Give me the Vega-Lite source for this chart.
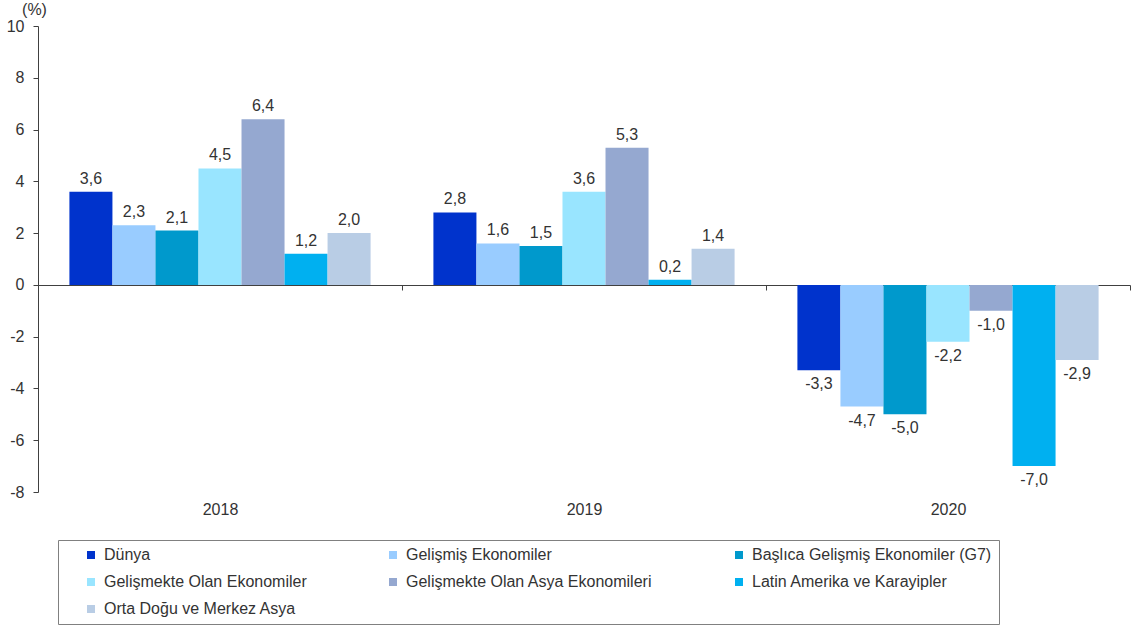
{
  "$schema": "https://vega.github.io/schema/vega-lite/v6.json",
  "width": 1092,
  "height": 466,
  "autosize": {"type": "none"},
  "padding": {"left": 38, "top": 26, "right": 2, "bottom": 135},
  "config": {
    "locale": {"number": {"decimal": ",", "thousands": ".", "grouping": [3], "currency": ["", ""], "minus": "-"}},
    "view": {"stroke": null},
    "font": "Liberation Sans"
  },
  "data": {"values": [
    {"yil": "2018", "seri": "Dünya", "deger": 3.6},
    {"yil": "2018", "seri": "Gelişmiş Ekonomiler", "deger": 2.3},
    {"yil": "2018", "seri": "Başlıca Gelişmiş Ekonomiler (G7)", "deger": 2.1},
    {"yil": "2018", "seri": "Gelişmekte Olan Ekonomiler", "deger": 4.5},
    {"yil": "2018", "seri": "Gelişmekte Olan Asya Ekonomileri", "deger": 6.4},
    {"yil": "2018", "seri": "Latin Amerika ve Karayipler", "deger": 1.2},
    {"yil": "2018", "seri": "Orta Doğu ve Merkez Asya", "deger": 2.0},
    {"yil": "2019", "seri": "Dünya", "deger": 2.8},
    {"yil": "2019", "seri": "Gelişmiş Ekonomiler", "deger": 1.6},
    {"yil": "2019", "seri": "Başlıca Gelişmiş Ekonomiler (G7)", "deger": 1.5},
    {"yil": "2019", "seri": "Gelişmekte Olan Ekonomiler", "deger": 3.6},
    {"yil": "2019", "seri": "Gelişmekte Olan Asya Ekonomileri", "deger": 5.3},
    {"yil": "2019", "seri": "Latin Amerika ve Karayipler", "deger": 0.2},
    {"yil": "2019", "seri": "Orta Doğu ve Merkez Asya", "deger": 1.4},
    {"yil": "2020", "seri": "Dünya", "deger": -3.3},
    {"yil": "2020", "seri": "Gelişmiş Ekonomiler", "deger": -4.7},
    {"yil": "2020", "seri": "Başlıca Gelişmiş Ekonomiler (G7)", "deger": -5.0},
    {"yil": "2020", "seri": "Gelişmekte Olan Ekonomiler", "deger": -2.2},
    {"yil": "2020", "seri": "Gelişmekte Olan Asya Ekonomileri", "deger": -1.0},
    {"yil": "2020", "seri": "Latin Amerika ve Karayipler", "deger": -7.0},
    {"yil": "2020", "seri": "Orta Doğu ve Merkez Asya", "deger": -2.9}
  ]},
  "encoding": {
    "x": {
      "field": "yil", "type": "nominal",
      "scale": {"paddingInner": 0, "paddingOuter": 0},
      "axis": {
        "title": null, "labelAngle": 0, "offset": -207, "tickBand": "extent",
        "domainColor": "#404040", "tickColor": "#404040", "tickSize": 5,
        "labelPadding": 211, "labelFontSize": 16, "labelColor": "#333333", "labelFont": "Liberation Sans"
      }
    },
    "xOffset": {
      "field": "seri", "type": "nominal",
      "sort": ["Dünya", "Gelişmiş Ekonomiler", "Başlıca Gelişmiş Ekonomiler (G7)", "Gelişmekte Olan Ekonomiler", "Gelişmekte Olan Asya Ekonomileri", "Latin Amerika ve Karayipler", "Orta Doğu ve Merkez Asya"],
      "scale": {"paddingInner": 0, "paddingOuter": 0.73}
    },
    "y": {
      "field": "deger", "type": "quantitative",
      "scale": {"domain": [-8, 10], "nice": false},
      "axis": {
        "values": [-8, -6, -4, -2, 0, 2, 4, 6, 8, 10], "grid": false,
        "title": "(%)", "titleAngle": 0, "titleX": -4, "titleY": -17, "titleAlign": "center", "titleBaseline": "middle",
        "titleFontSize": 16, "titleFontWeight": "normal", "titleColor": "#333333", "titleFont": "Liberation Sans",
        "labelFontSize": 16, "labelColor": "#333333", "labelFont": "Liberation Sans", "labelPadding": 9,
        "domainColor": "#404040", "tickColor": "#404040", "tickSize": 5
      }
    }
  },
  "layer": [
    {
      "mark": {"type": "bar"},
      "encoding": {
        "color": {
          "field": "seri", "type": "nominal",
          "scale": {
            "domain": ["Dünya", "Gelişmiş Ekonomiler", "Başlıca Gelişmiş Ekonomiler (G7)", "Gelişmekte Olan Ekonomiler", "Gelişmekte Olan Asya Ekonomileri", "Latin Amerika ve Karayipler", "Orta Doğu ve Merkez Asya"],
            "range": ["#0033CC", "#99CCFF", "#0099CC", "#99E5FF", "#95A8D0", "#00B0F0", "#B9CDE5"]
          },
          "legend": {
            "title": null, "orient": "none", "legendX": 20, "legendY": 514, "columns": 3,
            "direction": "horizontal",
            "symbolType": "square", "symbolSize": 64, "symbolStrokeWidth": 0,
            "symbolOffset": 18, "labelOffset": 5, "columnPadding": 60, "rowPadding": 11,
            "labelFontSize": 16, "labelColor": "#333333", "labelFont": "Liberation Sans", "labelLimit": 400,
            "padding": 7, "strokeColor": "#808080"
          }
        }
      }
    },
    {
      "transform": [{"filter": "datum.deger >= 0"}],
      "mark": {"type": "text", "baseline": "bottom", "dy": -5, "fontSize": 16, "color": "#333333", "font": "Liberation Sans"},
      "encoding": {"text": {"field": "deger", "type": "quantitative", "format": ".1f"}}
    },
    {
      "transform": [{"filter": "datum.deger < 0"}],
      "mark": {"type": "text", "baseline": "top", "dy": 6, "fontSize": 16, "color": "#333333", "font": "Liberation Sans"},
      "encoding": {"text": {"field": "deger", "type": "quantitative", "format": ".1f"}}
    }
  ]
}
